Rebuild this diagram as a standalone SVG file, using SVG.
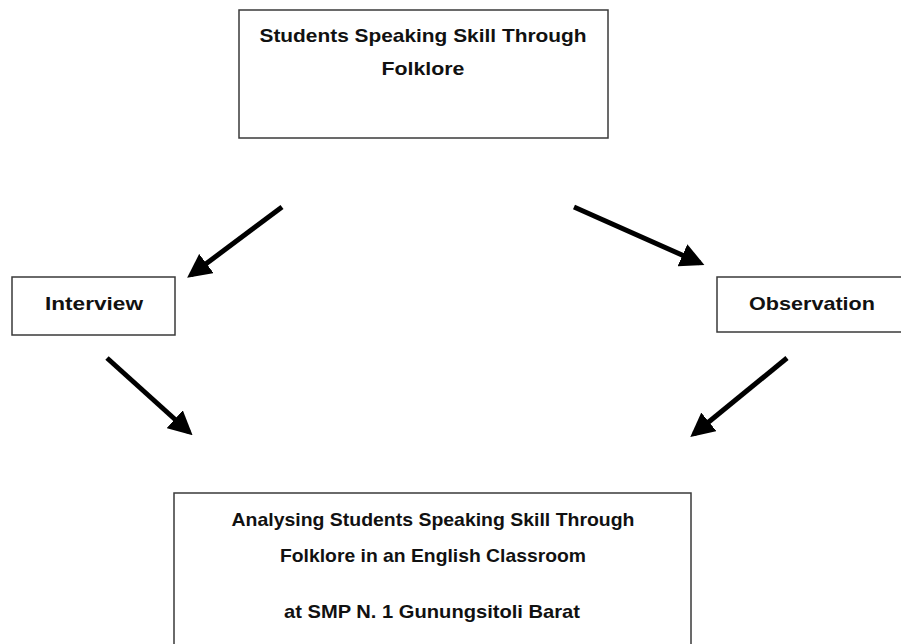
<svg xmlns="http://www.w3.org/2000/svg" width="901" height="644" viewBox="0 0 901 644">
<style>
.box{fill:#fff;stroke:#3a3a3a;stroke-width:1.5}
.t{font-family:"Liberation Sans",Arial,sans-serif;font-weight:bold;font-size:18.5px;fill:#111;text-anchor:middle}
.c{stroke:#000;stroke-width:5;fill:none;marker-end:url(#ah)}
</style>
<defs>
<marker id="ah" viewBox="0 0 10 10" refX="8" refY="5" markerWidth="4.8" markerHeight="4.8" orient="auto" markerUnits="strokeWidth">
<path d="M0,0 L10,5 L0,10 Z" fill="#000"/>
</marker>
</defs>
<rect width="901" height="644" fill="#fff"/>
<g id="top">
<rect class="box" x="239" y="10" width="369" height="128"/>
<text class="t" x="423" y="42" textLength="327" lengthAdjust="spacingAndGlyphs">Students Speaking Skill Through</text>
<text class="t" x="423" y="75" textLength="83" lengthAdjust="spacingAndGlyphs">Folklore</text>
</g>
<g id="interview">
<rect class="box" x="12" y="277" width="163" height="58"/>
<text class="t" x="94" y="310" textLength="98" lengthAdjust="spacingAndGlyphs">Interview</text>
</g>
<g id="observation">
<rect class="box" x="717" y="277" width="190" height="55"/>
<text class="t" x="812" y="310" textLength="126" lengthAdjust="spacingAndGlyphs">Observation</text>
</g>
<g id="bottom">
<rect class="box" x="174" y="493" width="517" height="160"/>
<text class="t" x="433" y="526" textLength="403" lengthAdjust="spacingAndGlyphs">Analysing Students Speaking Skill Through</text>
<text class="t" x="433" y="562" textLength="306" lengthAdjust="spacingAndGlyphs">Folklore in an English Classroom</text>
<text class="t" x="432" y="618" textLength="296" lengthAdjust="spacingAndGlyphs">at SMP N. 1 Gunungsitoli Barat</text>
</g>
<g id="connectors">
<line class="c" x1="282" y1="207" x2="191" y2="275"/>
<line class="c" x1="107" y1="358" x2="189" y2="432"/>
<line class="c" x1="574" y1="207" x2="700" y2="263"/>
<line class="c" x1="787" y1="358" x2="694" y2="434"/>
</g>
</svg>
